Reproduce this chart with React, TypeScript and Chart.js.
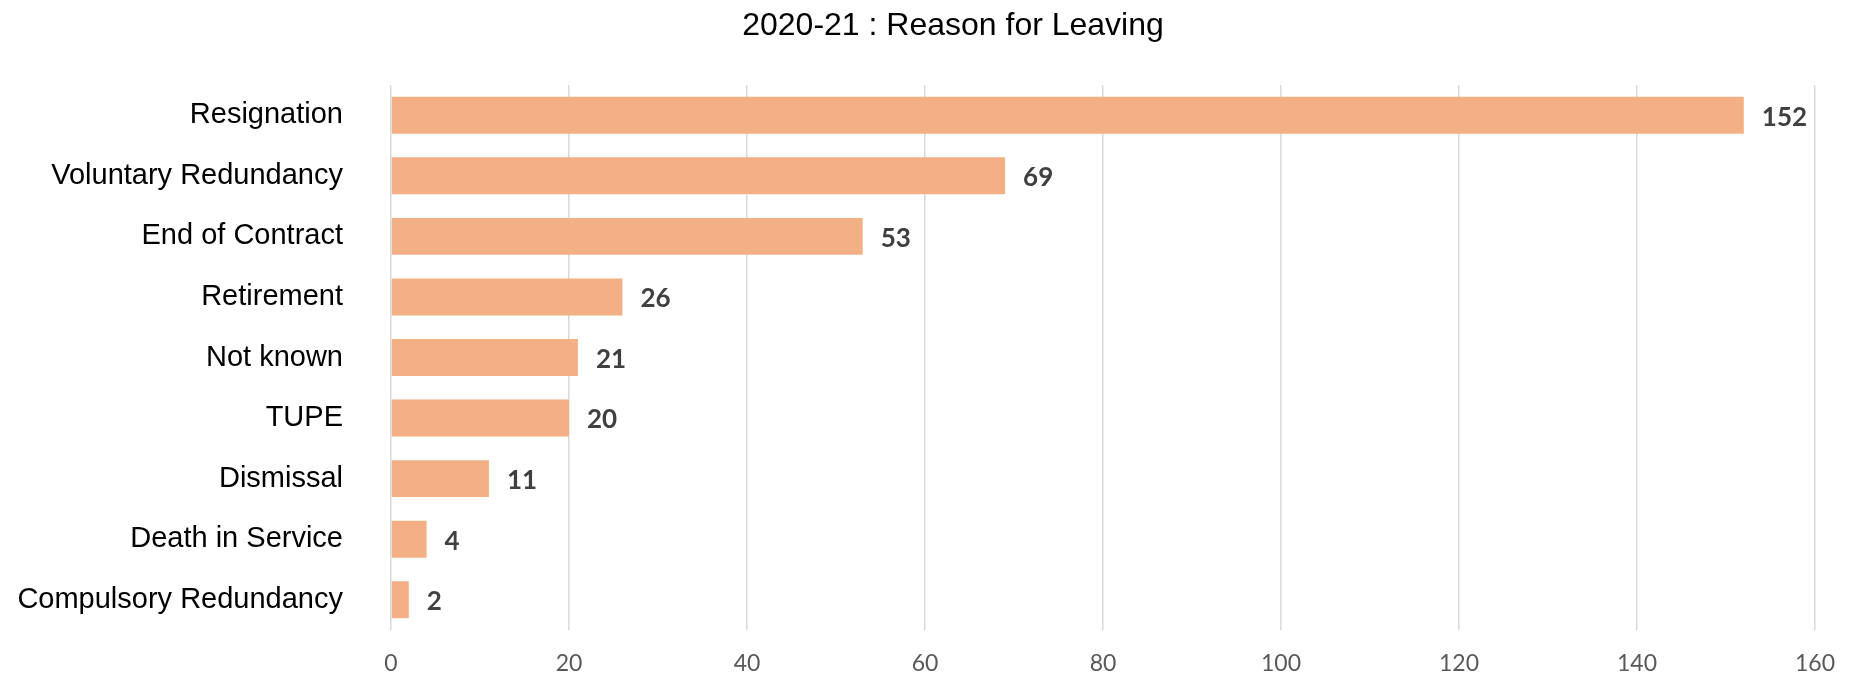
import React, { useEffect, useRef } from "react";
import { Chart, registerables } from "chart.js";

Chart.register(...registerables);

const titleText = "2020-21 : Reason for Leaving";
const categories = [
  "Resignation",
  "Voluntary Redundancy",
  "End of Contract",
  "Retirement",
  "Not known",
  "TUPE",
  "Dismissal",
  "Death in Service",
  "Compulsory Redundancy",
];
const leavers = [152, 69, 53, 26, 21, 20, 11, 4, 2];
const xTicks = [0, 20, 40, 60, 80, 100, 120, 140, 160];

const barColor = "#F2B084";

const valueLabels = {
  id: "valueLabels",
  afterDatasetsDraw(chart: any) {
    const ctx = chart.ctx;
    const meta = chart.getDatasetMeta(0);
    ctx.save();
    ctx.font = "bold 26px Lato, 'Open Sans', sans-serif";
    ctx.fillStyle = "#404040";
    ctx.textAlign = "left";
    ctx.textBaseline = "middle";
    meta.data.forEach((bar: any, i: number) => {
      ctx.fillText(String(leavers[i]), bar.x + 18, bar.y + 2);
    });
    ctx.restore();
  },
};

const titlePlugin = {
  id: "offsetTitle",
  afterDraw(chart: any) {
    const ctx = chart.ctx;
    ctx.save();
    ctx.font = "32px 'Liberation Sans', Arial, sans-serif";
    ctx.fillStyle = "#000000";
    ctx.textAlign = "center";
    ctx.textBaseline = "alphabetic";
    ctx.fillText(titleText, 953, 35);
    ctx.restore();
  },
};

export default function App() {
  const canvasRef = useRef<HTMLCanvasElement | null>(null);

  useEffect(() => {
    const canvas = canvasRef.current;
    if (!canvas) return;
    const chart = new Chart(canvas, {
      type: "bar",
      data: {
        labels: categories,
        datasets: [
          {
            data: leavers,
            backgroundColor: barColor,
            borderWidth: 0,
            barPercentage: 0.61,
            categoryPercentage: 1,
          },
        ],
      },
      options: {
        indexAxis: "y",
        animation: false,
        responsive: false,
        maintainAspectRatio: false,
        layout: { padding: { left: 0, right: 37, top: 85, bottom: 0 } },
        plugins: {
          legend: { display: false },
          tooltip: { enabled: false },
          title: { display: false },
        },
        scales: {
          x: {
            type: "linear",
            min: 0,
            max: 160,
            afterBuildTicks(scale: any) {
              scale.ticks = xTicks.map((v) => ({ value: v }));
            },
            afterFit(scale: any) {
              scale.height = 43;
              scale.paddingLeft = 0;
              scale.paddingRight = 0;
            },
            grid: { color: "#D9D9D9", lineWidth: 1.5, drawTicks: false },
            border: { display: false },
            ticks: {
              color: "#595959",
              padding: 20,
              font: { family: "Lato, 'Open Sans', sans-serif", size: 23 },
            },
          },
          y: {
            type: "category",
            afterFit(scale: any) {
              scale.width = 391;
              scale.paddingTop = 0;
              scale.paddingBottom = 0;
            },
            grid: { display: false, drawTicks: false },
            border: { display: false },
            ticks: {
              color: "#000000",
              padding: 48,
              font: { family: "'Liberation Sans', Arial, sans-serif", size: 29 },
            },
          },
        },
      },
      plugins: [valueLabels, titlePlugin],
    });
    return () => chart.destroy();
  }, []);

  return (
    <div style={{ position: "fixed", left: 0, top: 0, width: 1852, height: 673, background: "#ffffff" }}>
      <canvas ref={canvasRef} width={1852} height={673} style={{ display: "block" }} />
    </div>
  );
}
